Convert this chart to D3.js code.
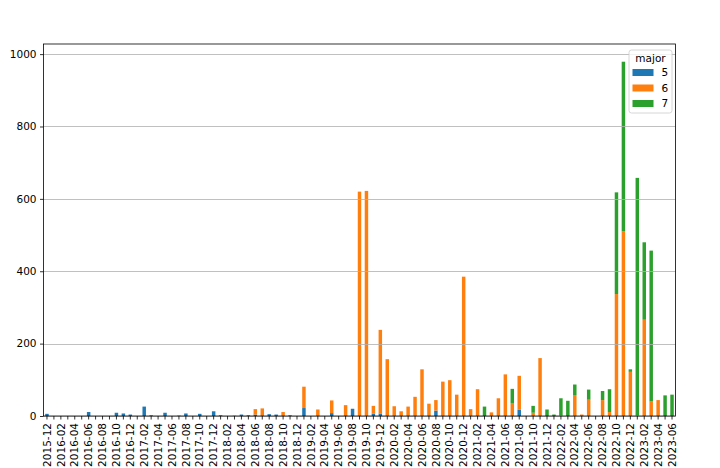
<!DOCTYPE html>
<html>
<head>
<meta charset="utf-8">
<script src="https://cdn.jsdelivr.net/npm/d3@7"></script>
<style>
  html, body { margin: 0; padding: 0; background: #fff; }
  svg { display: block; font-family: "DejaVu Sans", sans-serif; }
</style>
</head>
<body>
<div id="chart"></div>
<script>
// Months (categories)
const months = [];
(function () {
  let yy = 2015, mm = 12;
  while (yy < 2023 || (yy === 2023 && mm <= 6)) {
    months.push(yy + "-" + String(mm).padStart(2, "0"));
    mm++; if (mm > 12) { mm = 1; yy++; }
  }
})();

const seriesKeys = ["5", "6", "7"];
const seriesColors = ["#1f77b4", "#ff7f0e", "#2ca02c"];

// major = 5
const major5 = [
  6, 0, 0, 0, 0, 0, 11, 0, 0, 0,
  9, 7, 4, 0, 26, 2, 0, 9, 0, 1,
  7, 0, 6, 0, 13, 2, 0, 0, 4, 2,
  4, 0, 5, 4, 0, 2, 0, 22, 0, 0,
  0, 8, 0, 2, 20, 0, 0, 6, 7, 0,
  0, 0, 0, 0, 0, 0, 15, 0, 0, 0,
  0, 0, 0, 0, 0, 0, 0, 0, 17, 0,
  0, 0, 0, 0, 0, 0, 0, 0, 0, 0,
  0, 0, 0, 0, 0, 0, 0, 0, 0, 0,
  0
];
// major = 6
const major6 = [
  0, 0, 0, 0, 0, 0, 0, 0, 0, 0,
  0, 0, 0, 0, 0, 0, 0, 0, 0, 0,
  0, 0, 0, 0, 0, 0, 0, 1, 0, 0,
  15, 21, 0, 0, 11, 0, 0, 59, 0, 18,
  0, 35, 0, 28, 0, 620, 622, 22, 231, 157,
  27, 13, 26, 53, 129, 34, 29, 95, 99, 59,
  385, 19, 74, 0, 10, 49, 115, 36, 94, 0,
  9, 160, 0, 0, 2, 0, 58, 4, 45, 0,
  44, 11, 337, 510, 122, 2, 266, 40, 44, 0,
  0
];
// major = 7
const major7 = [
  0, 0, 0, 0, 0, 0, 0, 0, 0, 0,
  0, 0, 0, 0, 0, 0, 0, 0, 0, 0,
  0, 0, 0, 0, 0, 0, 0, 0, 0, 0,
  0, 0, 0, 0, 0, 0, 0, 0, 0, 0,
  0, 0, 0, 0, 0, 0, 0, 0, 0, 0,
  0, 0, 0, 0, 0, 0, 0, 0, 0, 0,
  0, 0, 0, 26, 0, 0, 0, 39, 0, 0,
  19, 0, 18, 4, 47, 42, 29, 0, 28, 0,
  25, 63, 281, 469, 7, 656, 214, 417, 0, 57,
  59
];

const yTicks = [0, 200, 400, 600, 800, 1000];
const legendTitle = "major";

const W = 720, H = 468;
const mLeft = 43.5, mRight = 675.5, mTop = 44, mBottom = 416;
const fontPx = "10.5px";

const svg = d3.select("#chart").append("svg")
  .attr("width", W).attr("height", H);

const table = months.map((mo, i) => ({ month: mo, "5": major5[i], "6": major6[i], "7": major7[i] }));
const stacked = d3.stack().keys(seriesKeys)(table);
const maxTotal = d3.max(table, d => d["5"] + d["6"] + d["7"]);

const x = d3.scaleBand().domain(months).range([mLeft, mRight])
  .paddingInner(0.5).paddingOuter(0.25);
const y = d3.scaleLinear().domain([0, maxTotal * 1.05]).range([mBottom, mTop]);

// bars
const g = svg.append("g");
stacked.forEach((layer, si) => {
  g.append("g").attr("fill", seriesColors[si])
    .selectAll("rect").data(layer).join("rect")
    .attr("x", d => x(d.data.month))
    .attr("width", x.bandwidth())
    .attr("y", d => y(d[1]))
    .attr("height", d => Math.max(0, y(d[0]) - y(d[1])));
});

// gridlines (above bars like matplotlib default)
svg.append("g").selectAll("line").data(yTicks).join("line")
  .attr("x1", mLeft).attr("x2", mRight)
  .attr("y1", d => Math.round(y(d)) + 0.5).attr("y2", d => Math.round(y(d)) + 0.5)
  .attr("stroke", "#b0b0b0").attr("stroke-width", 0.8);

// axes
const yAxis = d3.axisLeft(y).tickValues(yTicks).tickFormat(d3.format("d"))
  .tickSize(3.5).tickPadding(3.5);
const yG = svg.append("g").attr("transform", `translate(${mLeft},0)`).call(yAxis);
yG.select(".domain").remove();
yG.selectAll("text").attr("font-size", fontPx).attr("fill", "#000")
  .attr("font-family", "DejaVu Sans, sans-serif");
yG.selectAll("line").attr("stroke", "#000").attr("stroke-width", 0.8);

const xAxis = d3.axisBottom(x).tickSize(3.5).tickPadding(3.5)
  .tickFormat((d, i) => i % 2 === 0 ? d : "");
const xG = svg.append("g").attr("transform", `translate(0,${mBottom})`).call(xAxis);
xG.select(".domain").remove();
xG.selectAll("line").attr("stroke", "#000").attr("stroke-width", 0.8);
xG.selectAll("text")
  .attr("font-size", fontPx).attr("fill", "#000")
  .attr("font-family", "DejaVu Sans, sans-serif")
  .attr("text-anchor", "end")
  .attr("transform", "rotate(-90)")
  .attr("x", -7).attr("y", 0).attr("dy", "0.35em");

// frame
svg.append("rect").attr("x", mLeft).attr("y", mTop)
  .attr("width", mRight - mLeft).attr("height", mBottom - mTop)
  .attr("fill", "none").attr("stroke", "#000").attr("stroke-width", 0.8);

// legend
const lg = svg.append("g");
lg.append("rect").attr("x", 629).attr("y", 50).attr("width", 43).attr("height", 63)
  .attr("rx", 2.5).attr("fill", "#fff").attr("fill-opacity", 0.8)
  .attr("stroke", "#cccccc").attr("stroke-width", 0.8);
lg.append("text").attr("x", 650.5).attr("y", 58.5).attr("dy", "0.35em")
  .attr("text-anchor", "middle").attr("font-size", fontPx).attr("fill", "#000")
  .text(legendTitle);
seriesKeys.forEach((k, i) => {
  const cy = 72.5 + i * 15.5;
  lg.append("rect").attr("x", 632.5).attr("y", cy - 3.5).attr("width", 21).attr("height", 7)
    .attr("fill", seriesColors[i]);
  lg.append("text").attr("x", 661.5).attr("y", cy).attr("dy", "0.35em")
    .attr("font-size", fontPx).attr("fill", "#000").text(k);
});
</script>
</body>
</html>
